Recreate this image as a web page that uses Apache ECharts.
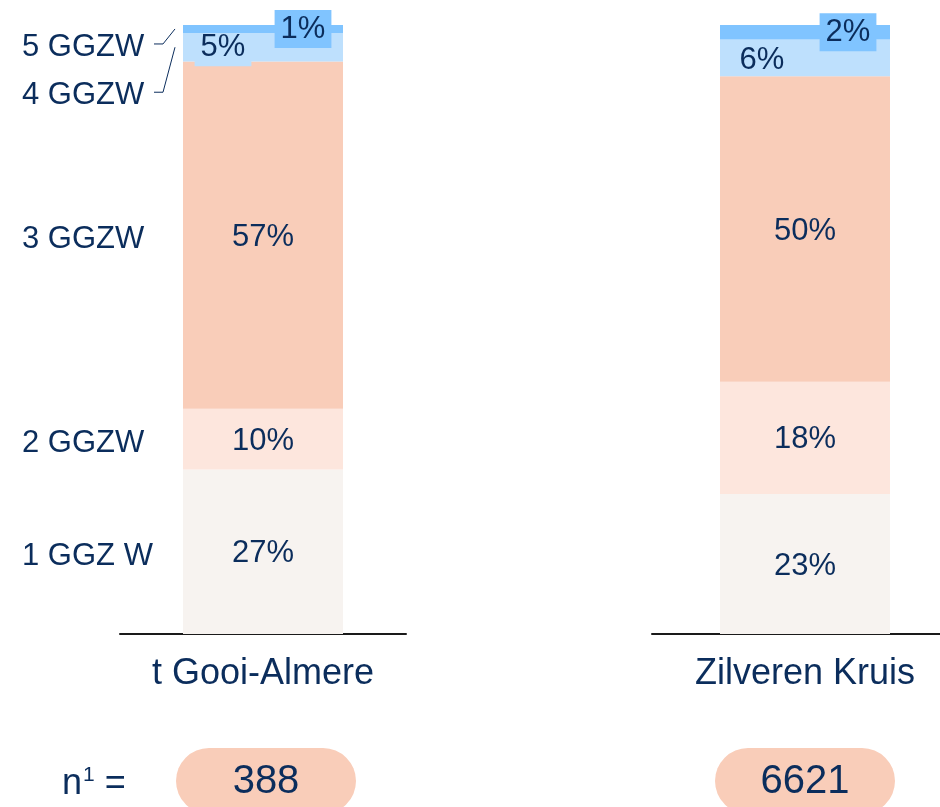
<!DOCTYPE html>
<html>
<head>
<meta charset="utf-8">
<script src="https://cdn.jsdelivr.net/npm/echarts@6/dist/echarts.min.js"></script>
<style>
  html, body { margin: 0; padding: 0; background: #fff; }
  #main { width: 940px; height: 807px; }
</style>
</head>
<body>
<div id="main"></div>
<script>
// data (percent shares per level, bottom to top)
const categories = ['t Gooi-Almere', 'Zilveren Kruis'];
const levelNames = ['1 GGZ W', '2 GGZW', '3 GGZW', '4 GGZW', '5 GGZW'];
const gooiAlmere = [27, 10, 57, 4.7, 1.3];
const zilverenKruis = [23, 18.4, 50.2, 6, 2.4];
const nCounts = [388, 6621];

const levelColors = ['#f7f3f0', '#fde6dd', '#f9cdb9', '#bee0fd', '#80c4ff'];
const textColor = '#0b2d5c';
const font = '"Liberation Sans", Arial, sans-serif';

// label offsets for the two thin top segments
const labelShift = [
  [null, null, null, { offset: [-40, 0], box: true }, { offset: [40, 0], box: true }],
  [null, null, null, { offset: [-43, 3], box: false }, { offset: [43, 0], box: true }]
];

const chartDom = document.getElementById('main');
const myChart = echarts.init(chartDom);

function buildSeries(gridIdx, values) {
  return values.map((v, i) => {
    const shift = labelShift[gridIdx][i];
    const label = {
      show: true,
      position: 'inside',
      color: textColor,
      fontFamily: font,
      fontSize: 31,
      offset: [0, 2],
      formatter: p => Math.round(p.value) + '%'
    };
    if (shift) {
      label.offset = shift.offset;
      if (shift.box) {
        label.backgroundColor = levelColors[i];
        label.padding = [4, 6, 3, 6];
      }
    }
    return {
      name: levelNames[i],
      type: 'bar',
      stack: 'g' + gridIdx,
      xAxisIndex: gridIdx,
      yAxisIndex: gridIdx,
      barWidth: gridIdx === 0 ? 160 : 170,
      itemStyle: { color: levelColors[i] },
      label: label,
      silent: true,
      z: 2 + i,
      data: [v]
    };
  });
}

const option = {
  animation: false,
  grid: [
    { left: 120, width: 286, top: 25, bottom: 173, outerBoundsMode: 'none' },
    { left: 652, width: 306, top: 25, bottom: 173, outerBoundsMode: 'none' }
  ],
  xAxis: [0, 1].map(i => ({
    type: 'category',
    gridIndex: i,
    data: [categories[i]],
    axisLine: { lineStyle: { color: '#1a1a1a', width: 2 } },
    axisTick: { show: false },
    axisLabel: { color: textColor, fontFamily: font, fontSize: 36, margin: 22 }
  })),
  yAxis: [0, 1].map(i => ({
    type: 'value',
    gridIndex: i,
    min: 0,
    max: 100,
    show: false,
    splitLine: { show: false }
  })),
  series: buildSeries(0, gooiAlmere).concat(buildSeries(1, zilverenKruis))
};

myChart.setOption(option);

// level names to the left of the first bar, pills with sample sizes below
const graphics = [];
let cum = 0;
const mids = gooiAlmere.map(v => {
  const m = cum + v / 2;
  cum += v;
  return myChart.convertToPixel({ gridIndex: 0 }, [0, m])[1];
});
const barLeft = myChart.convertToPixel({ gridIndex: 0 }, [0, 0])[0] - 80;

levelNames.forEach((name, i) => {
  let y = mids[i] + 2;
  if (i === 4) y = mids[i] + 16;
  if (i === 3) y = mids[i] + 46;
  graphics.push({
    type: 'text',
    left: 22,
    top: y - 13,
    style: { text: name, fill: textColor, font: '31px ' + font }
  });
  if (i >= 3) {
    graphics.push({
      type: 'polyline',
      shape: { points: [[154, y - 1], [163, y - 1], [barLeft - 8, mids[i]]] },
      style: { stroke: textColor, lineWidth: 1, fill: null }
    });
  }
});

graphics.push({
  type: 'text',
  left: 62,
  top: 765,
  style: {
    text: '{n|n}{s|1}{n| =}',
    rich: {
      n: { fill: textColor, font: '36px ' + font, verticalAlign: 'bottom' },
      s: { fill: textColor, font: '21px ' + font, verticalAlign: 'top', padding: [0, 0, 16, 1] }
    }
  }
});

nCounts.forEach((n, i) => {
  const cx = myChart.convertToPixel({ gridIndex: i }, [0, 0])[0] + (i === 0 ? 3 : 0);
  graphics.push({
    type: 'rect',
    shape: { x: cx - 90, y: 748, width: 180, height: 66, r: 33 },
    style: { fill: '#f9cdb9' }
  });
  graphics.push({
    type: 'text',
    x: cx,
    y: 782,
    style: {
      text: String(n),
      fill: textColor,
      font: '40px ' + font,
      align: 'center',
      verticalAlign: 'middle'
    }
  });
});

myChart.setOption({ graphic: graphics });
</script>
</body>
</html>
